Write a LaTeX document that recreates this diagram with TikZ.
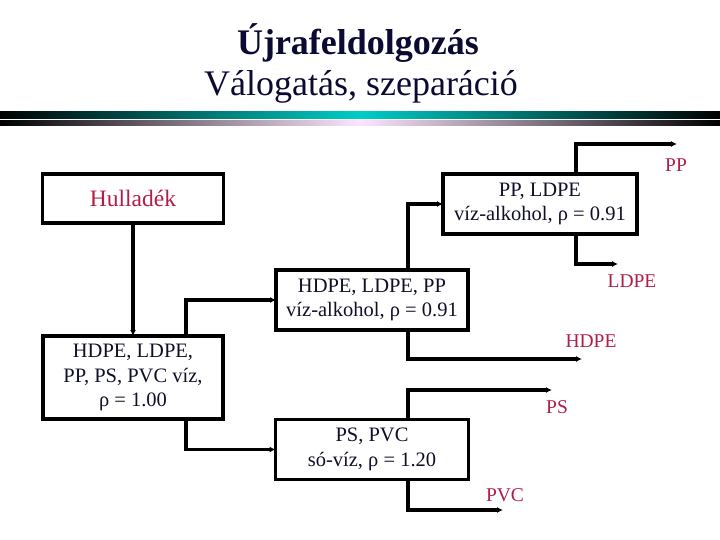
\documentclass[tikz,border=0pt]{standalone}
\usepackage{fontspec}
\setmainfont{Liberation Serif}
\usetikzlibrary{arrows.meta}
\definecolor{titlecol}{RGB}{10,10,50}
\definecolor{txtcol}{RGB}{15,15,40}
\definecolor{labcol}{RGB}{178,30,72}
\definecolor{tealbar}{RGB}{0,205,200}
\definecolor{pinkbar}{RGB}{255,228,255}
\begin{document}
\begin{tikzpicture}[x=1bp,y=-1bp,
  box/.style={draw=black, line width=3.2bp, fill=white, inner sep=0pt, outer sep=0pt,
    align=center, text=txtcol, font=\fontsize{20.5bp}{24.5bp}\selectfont},
  conn/.style={draw=black, line width=3.2bp},
  arr/.style={conn, -{Latex[length=6bp,width=6bp]}},
  lab/.style={text=labcol, inner sep=0pt, font=\fontsize{19.5bp}{22bp}\selectfont}]
\useasboundingbox (0,0) rectangle (720,540);
\fill[white] (0,0) rectangle (720,540);
% title
\node[text=titlecol, font=\fontsize{36bp}{40bp}\selectfont\bfseries, anchor=base] (t1) at (358,55) {Újrafeldolgozás};
\node[text=titlecol, font=\fontsize{36bp}{40bp}\selectfont, anchor=base] (t2) at (361,96) {Válogatás, szeparáció};
% bars
\shade[left color=black, right color=black, middle color=tealbar] (0,111.5) rectangle (720,118.5);
\shade[left color=black, right color=black, middle color=pinkbar] (0,121) rectangle (720,125.5);
% boxes
\node[box, minimum width=181bp, minimum height=49bp, text=labcol, font=\fontsize{23.5bp}{26bp}\selectfont] (hul) at (133,198.5) {Hulladék};
\node[box, minimum width=180bp, minimum height=83bp] (mix) at (133,377.5) {HDPE, LDPE,\\PP, PS, PVC víz,\\ρ = 1.00};
\node[box, minimum width=194bp, minimum height=60bp] (ppl) at (540,204) {PP, LDPE\\víz-alkohol, ρ = 0.91};
\node[box, minimum width=192bp, minimum height=60bp] (hlp) at (372,300) {HDPE, LDPE, PP\\víz-alkohol, ρ = 0.91};
\node[box, minimum width=193bp, minimum height=60bp] (psv) at (372,449.5) {PS, PVC\\só-víz, ρ = 1.20};
% free ends
\coordinate (ePP) at (677,144);
\coordinate (eLDPE) at (618,264);
\coordinate (eHDPE) at (582,359);
\coordinate (ePS) at (552,390);
\coordinate (ePVC) at (503,510);
% labels
\node[lab] (lPP) at (676,165) {PP};
\node[lab] (lLDPE) at (632,281) {LDPE};
\node[lab] (lHDPE) at (591,341) {HDPE};
\node[lab] (lPS) at (557,407) {PS};
\node[lab] (lPVC) at (505,495) {PVC};
% connectors
\draw[arr] (hul.south) -- (mix.north);
\draw[arr] ([xshift=53bp]mix.north) |- (hlp.west);
\draw[arr] ([xshift=36bp]hlp.north) |- (ppl.west);
\draw[arr] ([xshift=36bp]ppl.north) |- (ePP);
\draw[arr] ([xshift=36bp]ppl.south) |- (eLDPE);
\draw[arr] ([xshift=36bp]hlp.south) |- (eHDPE);
\draw[arr] ([xshift=53bp]mix.south) |- (psv.west);
\draw[arr] ([xshift=36bp]psv.north) |- (ePS);
\draw[arr] ([xshift=36bp]psv.south) |- (ePVC);
\end{tikzpicture}
\end{document}
